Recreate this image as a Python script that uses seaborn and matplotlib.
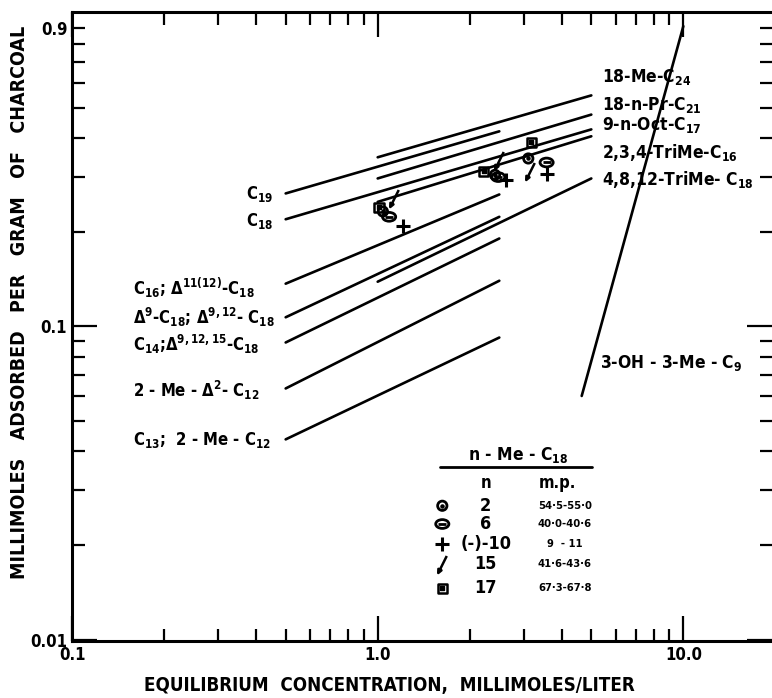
import numpy as np
import pandas as pd
import seaborn as sns
import matplotlib.pyplot as plt
from matplotlib.path import Path
from matplotlib.markers import MarkerStyle
from matplotlib.transforms import Affine2D
from matplotlib.ticker import FixedLocator, FixedFormatter, NullFormatter

# Isotherms: each is a straight segment on log-log paper (start and end point)
line_names = ['C19', 'C18', 'C16', 'D9', 'C14', '2-Me-D2', 'C13',
              '18-Me-C24', '18-n-Pr-C21', '2,3,4-TriMe', '4,8,12-TriMe', '3-OH-3-Me-C9']
x_start = [0.5, 0.5, 0.5, 0.5, 0.5, 0.5, 0.5, 1.0, 1.0, 1.0, 1.0, 4.65]
y_start = [0.266, 0.220, 0.137, 0.107, 0.0889, 0.0634, 0.0436, 0.347, 0.297, 0.250, 0.139, 0.060]
x_end = [2.5, 5.0, 2.5, 2.5, 2.5, 2.5, 2.5, 5.0, 5.0, 5.0, 5.0, 10.0]
y_end = [0.420, 0.426, 0.264, 0.224, 0.191, 0.140, 0.0922, 0.547, 0.475, 0.405, 0.297, 0.91]

# n-Me-C18 data points
pt_n = [17, 2, 15, 6, 10,
        17, 15, 2, 6, 10,
        17, 2, 15, 6, 10]
pt_x = [1.01, 1.04, 1.13, 1.09, 1.21,
        2.22, 2.50, 2.42, 2.48, 2.62,
        3.18, 3.11, 3.15, 3.57, 3.57]
pt_y = [0.240, 0.233, 0.258, 0.224, 0.209,
        0.313, 0.340, 0.305, 0.300, 0.293,
        0.387, 0.344, 0.313, 0.334, 0.308]

# legend table
leg_n = ['2', '6', '(-)-10', '15', '17']
leg_mp = ['54·5-55·0', '40·0-40·6', '9  - 11', '41·6-43·6', '67·3-67·8']
leg_key = [2, 6, 10, 15, 17]

# labels
left_labels = [r'C$_{19}$', r'C$_{18}$',
               r'C$_{16}$; $\Delta^{11(12)}$-C$_{18}$',
               r'$\Delta^{9}$-C$_{18}$; $\Delta^{9,12}$- C$_{18}$',
               r'C$_{14}$;$\Delta^{9,12,15}$-C$_{18}$',
               r'2 - Me - $\Delta^{2}$- C$_{12}$',
               r'C$_{13}$;  2 - Me - C$_{12}$']
right_labels = [r'18-Me-C$_{24}$', r'18-n-Pr-C$_{21}$', r'9-n-Oct-C$_{17}$',
                r'2,3,4-TriMe-C$_{16}$', r'4,8,12-TriMe- C$_{18}$']

sns.set_theme(style='ticks')
plt.rcParams['font.family'] = ['DejaVu Sans']
plt.rcParams['font.stretch'] = 'condensed'
plt.rcParams['font.weight'] = 'bold'
plt.rcParams['axes.labelweight'] = 'bold'
plt.rcParams['mathtext.default'] = 'regular'
plt.rcParams['text.color'] = 'black'
plt.rcParams['axes.labelcolor'] = 'black'
plt.rcParams['xtick.color'] = 'black'
plt.rcParams['ytick.color'] = 'black'

fig, ax = plt.subplots(figsize=(7.72, 6.98), dpi=100)
fig.subplots_adjust(left=72/772, right=1.0, bottom=57/698, top=686/698)
ax.set_xscale('log')
ax.set_yscale('log')

# long-form table of segment end points
rows = []
for i, name in enumerate(line_names):
    rows.append((name, x_start[i], y_start[i]))
    rows.append((name, x_end[i], y_end[i]))
seg = pd.DataFrame(rows, columns=['name', 'x', 'y'])
sns.lineplot(data=seg, x='x', y='y', units='name', estimator=None, sort=False,
             color='black', lw=1.9, ax=ax, legend=False)

# marker shapes
arrow_path = Path([(0.5, 1.0), (-0.3, -0.6), (-0.5, -1.0), (-0.12, -0.69), (-0.48, -0.51), (-0.5, -1.0)],
                  [Path.MOVETO, Path.LINETO, Path.MOVETO, Path.LINETO, Path.LINETO, Path.CLOSEPOLY])
ellipse = MarkerStyle('o', fillstyle='none', transform=Affine2D().scale(1.5, 1.0))


def draw_marker(n, xs, ys, trans=None):
    kw = {} if trans is None else {'transform': trans}
    if n == 2:
        ax.scatter(xs, ys, marker=MarkerStyle('o', fillstyle='none'), s=45, color='black', lw=2, **kw)
        ax.scatter(xs, ys, marker='o', s=5, color='black', **kw)
    elif n == 6:
        ax.scatter(xs, ys, marker=ellipse, s=40, color='black', lw=2, **kw)
        ax.scatter(xs, ys, marker='_', s=30, color='black', lw=2, **kw)
    elif n == 10:
        ax.scatter(xs, ys, marker='+', s=90, color='black', lw=2.2, **kw)
    elif n == 15:
        ax.scatter(xs, ys, marker=arrow_path, s=150, color='black', edgecolor='black', lw=1.8, **kw)
    elif n == 17:
        ax.scatter(xs, ys, marker=MarkerStyle('s', fillstyle='none'), s=45, color='black', lw=1.8, **kw)
        ax.scatter(xs, ys, marker='s', s=5, color='black', **kw)


pts = pd.DataFrame({'n': pt_n, 'x': pt_x, 'y': pt_y})
for n, grp in pts.groupby('n'):
    draw_marker(n, grp['x'].values, grp['y'].values)

# axes limits and ticks
ax.set_xlim(0.1, 19.5)
ax.set_ylim(0.0099, 1.01)
ax.xaxis.set_major_locator(FixedLocator([0.1, 1.0, 10.0]))
ax.xaxis.set_major_formatter(FixedFormatter(['0.1', '1.0', '10.0']))
ax.xaxis.set_minor_locator(FixedLocator([k * 0.1 for k in range(2, 10)] + list(range(2, 10))))
ax.xaxis.set_minor_formatter(NullFormatter())
ax.yaxis.set_major_locator(FixedLocator([0.01, 0.1]))
ax.yaxis.set_major_formatter(FixedFormatter(['0.01', '0.1']))
y_minor = [k * 0.01 for k in range(2, 10)] + [k * 0.1 for k in range(2, 10)]
ax.yaxis.set_minor_locator(FixedLocator(y_minor))
ax.yaxis.set_minor_formatter(FixedFormatter([''] * 15 + ['0.9']))
ax.tick_params(which='both', direction='in', top=True, right=True, width=1.6,
               colors='black', labelsize=12)
ax.tick_params(which='major', length=18)
ax.tick_params(which='minor', length=9)
for side in ['left', 'bottom', 'top']:
    ax.spines[side].set_linewidth(2.2)
    ax.spines[side].set_color('black')
ax.spines['right'].set_visible(False)
ax.grid(False)

ax.set_xlabel('EQUILIBRIUM  CONCENTRATION,  MILLIMOLES/LITER', fontsize=13.5)
ax.xaxis.set_label_coords(0.454, -0.055)
ax.set_ylabel('MILLIMOLES   ADSORBED   PER   GRAM   OF   CHARCOAL', fontsize=14)
ax.yaxis.set_label_coords(-0.062, 0.539)

# labels on the left of the lines
left_pos = [(0.287, 0.710, 'right'), (0.287, 0.668, 'right'), (0.087, 0.561, 'left'),
            (0.087, 0.514, 'left'), (0.087, 0.471, 'left'), (0.087, 0.398, 'left'),
            (0.087, 0.320, 'left')]
for lab, (fx, fy, ha) in zip(left_labels, left_pos):
    ax.text(fx, fy, lab, transform=ax.transAxes, ha=ha, va='center', fontsize=12)

right_y = [0.897, 0.852, 0.820, 0.776, 0.733]
for lab, fy in zip(right_labels, right_y):
    ax.text(0.757, fy, lab, transform=ax.transAxes, ha='left', va='center', fontsize=12.5)

ax.text(0.754, 0.442, r'3-OH - 3-Me - C$_{9}$', transform=ax.transAxes,
        ha='left', va='center', fontsize=12.5)

# legend table for the n-Me-C18 points
ax.text(0.637, 0.296, r'n - Me - C$_{18}$', transform=ax.transAxes, ha='center', va='center', fontsize=12.5)
ax.plot([0.526, 0.743], [0.277, 0.277], transform=ax.transAxes, color='black', lw=2)
ax.text(0.591, 0.251, 'n', transform=ax.transAxes, ha='center', va='center', fontsize=12)
ax.text(0.693, 0.251, 'm.p.', transform=ax.transAxes, ha='center', va='center', fontsize=12)
row_y = [0.215, 0.186, 0.154, 0.122, 0.084]
for key, nlab, mp, fy in zip(leg_key, leg_n, leg_mp, row_y):
    draw_marker(key, [0.529], [fy], trans=ax.transAxes)
    ax.text(0.591, fy, nlab, transform=ax.transAxes, ha='center', va='center', fontsize=13)
    ax.text(0.704, fy, mp, transform=ax.transAxes, ha='center', va='center',
            fontsize=8, fontweight='bold')

plt.savefig('out.png', dpi=100)
